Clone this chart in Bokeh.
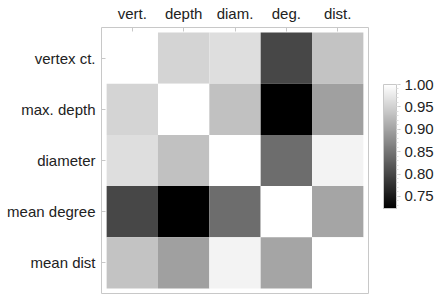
from bokeh.plotting import figure
from bokeh.models import LinearColorMapper, ColorBar, ColumnDataSource, FixedTicker, Range1d, PrintfTickFormatter
from bokeh.embed import file_html
from bokeh.resources import INLINE

row_labels = ["vertex ct.", "max. depth", "diameter", "mean degree", "mean dist"]
col_labels = ["vert.", "depth", "diam.", "deg.", "dist."]

# correlation matrix (symmetric), rows top to bottom
corr = [
    [1.000, 0.953, 0.964, 0.800, 0.935],
    [0.953, 1.000, 0.932, 0.723, 0.897],
    [0.964, 0.932, 1.000, 0.842, 0.986],
    [0.800, 0.723, 0.842, 1.000, 0.902],
    [0.935, 0.897, 0.986, 0.902, 1.000],
]
cbar_low, cbar_high = 0.723, 1.0
cbar_ticks = [0.75, 0.80, 0.85, 0.90, 0.95, 1.00]

n = len(row_labels)
xs, ys, vals = [], [], []
for i in range(n):
    for j in range(n):
        xs.append(j)
        ys.append(n - 1 - i)
        vals.append(corr[i][j])
src = ColumnDataSource(dict(x=xs, y=ys, v=vals))

palette = ["#%02x%02x%02x" % (g, g, g) for g in range(256)]
mapper = LinearColorMapper(palette=palette, low=cbar_low, high=cbar_high)

FONT = "Liberation Sans"

p = figure(width=441, height=304, output_backend="svg", toolbar_location=None,
           x_range=Range1d(-0.6, n - 0.4), y_range=Range1d(-0.6, n - 0.4),
           x_axis_location="above", tools="")
p.min_border_left = 101
p.min_border_top = 27
p.min_border_right = 73
p.min_border_bottom = 11
p.background_fill_color = "white"
p.border_fill_color = "white"
p.outline_line_color = "#c8c8c8"
p.outline_line_width = 1
p.grid.visible = False

p.rect(x="x", y="y", width=1, height=1, source=src,
       fill_color={"field": "v", "transform": mapper}, line_color=None)

for ax, labels in ((p.xaxis[0], col_labels), (p.yaxis[0], row_labels)):
    ax.ticker = FixedTicker(ticks=list(range(n)))
    ax.axis_line_color = None
    ax.major_tick_in = 4
    ax.major_tick_out = 0
    ax.minor_tick_line_color = None
    ax.major_tick_line_color = "#c8c8c8"
    ax.major_label_text_font = FONT
    ax.major_label_text_font_size = "15px"
    ax.major_label_text_color = "#222222"
    ax.major_label_standoff = 6

p.xaxis[0].major_label_overrides = {j: col_labels[j] for j in range(n)}
p.yaxis[0].major_label_overrides = {n - 1 - i: row_labels[i] for i in range(n)}

cb = ColorBar(color_mapper=mapper, width=13, height=124,
              ticker=FixedTicker(ticks=cbar_ticks, minor_ticks=[0.73 + 0.01 * k for k in range(28)]),
              formatter=PrintfTickFormatter(format="%.2f"),
              major_label_text_font=FONT, major_label_text_font_size="15px",
              major_label_text_color="#222222",
              major_tick_in=0, major_tick_out=4, major_tick_line_color="#c8c8c8",
              minor_tick_in=0, minor_tick_out=2, minor_tick_line_color="#dddddd",
              bar_line_color="#c8c8c8", label_standoff=4,
              padding=0, margin=15, location=(15, 85),
              background_fill_color=None, border_line_color=None)
p.add_layout(cb, "right")

open("out.html", "w").write(file_html(p, INLINE))
